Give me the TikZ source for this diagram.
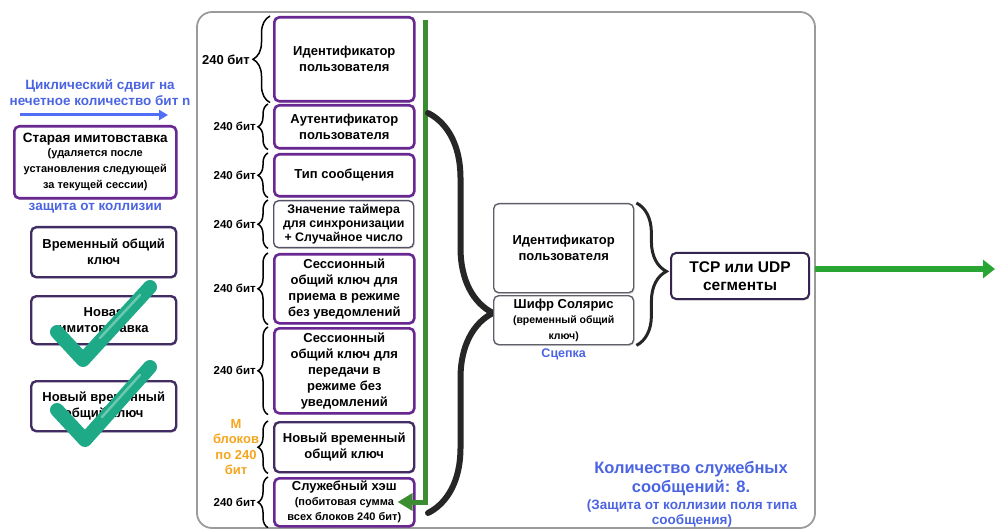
\documentclass[tikz,border=0pt]{standalone}
\usepackage{fontspec}
\setmainfont{Liberation Sans}
\usetikzlibrary{arrows.meta,decorations.pathreplacing,shadows,calc}

\definecolor{framegray}{RGB}{155,155,155}
\definecolor{violetA}{RGB}{105,40,145}
\definecolor{violetB}{RGB}{65,45,100}
\definecolor{slateB}{RGB}{85,80,100}
\definecolor{plainB}{RGB}{95,95,105}
\definecolor{bluetxt}{RGB}{75,100,225}
\definecolor{bluearr}{RGB}{80,110,245}
\definecolor{orangetxt}{RGB}{245,165,30}
\definecolor{greenline}{RGB}{60,140,50}
\definecolor{greenarr}{RGB}{40,165,50}
\definecolor{tickcol}{RGB}{30,170,135}

\newcommand{\fsz}[2]{\fontsize{#1}{#2}\selectfont}
% smaller explanatory lines inside boxes
\newcommand{\smA}{\fsz{11}{14.5}}
\newcommand{\smB}{\fsz{11}{13.5}}
\newcommand{\smC}{\fsz{10.5}{13}}

\tikzset{
  x=1pt, y=-1pt,
  box/.style={draw, rounded corners=5pt, fill=white, align=center, inner sep=1pt,
    anchor=north west, font=\bfseries\fsz{13}{16},
    drop shadow={shadow xshift=1pt, shadow yshift=-1.5pt, opacity=0.25}},
  vbox/.style={box, draw=violetA, line width=2.6pt},
  dbox/.style={box, draw=violetB, line width=2.4pt},
  sbox/.style={box, draw=slateB, line width=1.4pt},
  pbox/.style={box, draw=plainB, line width=1.4pt},
  brc/.style={decorate, line width=1.5pt, decoration={brace, amplitude=#1}},
  brc/.default=10pt,
  bitlbl/.style={anchor=east, font=\bfseries\fsz{11.5}{13}, inner sep=1pt},
  bluenote/.style={text=bluetxt, font=\bfseries\fsz{13.5}{16}, align=center, inner sep=0pt},
  tick/.style={draw=tickcol, line width=14pt, line cap=round, line join=round},
  tickhl/.style={draw=white, opacity=0.35, line width=2.5pt, line cap=round},
}

\begin{document}
\begin{tikzpicture}
\useasboundingbox (0,0) rectangle (995,529);

% outer frame
\draw[framegray, line width=1.8pt, rounded corners=15pt] (197,12) rectangle (815,528);

% ---------- left column ----------
\node[bluenote] (shift) at (100,93) {Циклический сдвиг на\\нечетное количество бит n};
\coordinate (sa) at (20,115);
\coordinate (sb) at (168,115);
\draw[bluearr, line width=3pt, -{Triangle[length=9pt,width=10pt]}] (sa) -- (sb);

\node[vbox, minimum width=162pt, minimum height=72pt, font=\bfseries\fsz{13.5}{16}] (old) at (13,125)
  {Старая имитовставка\\[-2pt]\smA(удаляется после\\\smA установления следующей\\\smA за текущей сессии)};
\node[bluenote, anchor=north] (coll) at ($(old.south)+(0,3)$) {защита от коллизии};

\node[dbox, minimum width=145pt, minimum height=50pt] (tmpkey) at (30,226) {Временный общий\\ключ};
\node[dbox, minimum width=145pt, minimum height=48pt] (newmac) at (30,295) {Новая\\имитовставка};
\node[dbox, minimum width=145pt, minimum height=50pt] (newkey) at (30,380) {Новый временный\\общий ключ};

% check marks over the last two boxes
\draw[tick] (57,332) -- (83,360) -- (150,287);
\draw[tickhl] (100,338) -- (140,295);
\draw[tick] (57,410) -- (85,440) -- (150,367);
\draw[tickhl] (102,417) -- (140,375);

% ---------- message blocks ----------
\node[vbox, minimum width=140pt, minimum height=84pt] (m1) at (273,16) {Идентификатор\\пользователя};
\node[vbox, minimum width=140pt, minimum height=43pt] (m2) at (273,104) {Аутентификатор\\пользователя};
\node[vbox, minimum width=140pt, minimum height=42pt] (m3) at (273,153) {Тип сообщения};
\node[sbox, minimum width=140pt, minimum height=47pt, font=\bfseries\fsz{12.4}{14}] (m4) at (273,200)
  {Значение таймера\\для синхронизации\\+ Случайное число};
\node[vbox, minimum width=140pt, minimum height=69pt, font=\bfseries\fsz{13}{16}] (m5) at (273,253)
  {Сессионный\\общий ключ для\\приема в режиме\\без уведомлений};
\node[vbox, minimum width=140pt, minimum height=85pt, font=\bfseries\fsz{13}{16}] (m6) at (273,327)
  {Сессионный\\общий ключ для\\передачи в\\режиме без\\уведомлений};
\node[dbox, minimum width=140pt, minimum height=50pt] (m7) at (273,421) {Новый временный\\общий ключ};
\node[vbox, minimum width=140pt, minimum height=48pt] (m8) at (273,477)
  {Служебный хэш\\[-2pt]\smB(побитовая сумма\\\smB всех блоков 240 бит)};

% braces with block sizes
\draw[brc=17pt] ($(m1.south west)+(-3,0)$) -- ($(m1.north west)+(-3,0)$);
\node[bitlbl, font=\bfseries\fsz{13}{15}] (b1) at ($(m1.west)+(-22,0)$) {240 бит};
\foreach \m in {m2,m3,m4,m5,m6,m8}{
  \draw[brc] ($(\m.south west)+(-5,0)$) -- ($(\m.north west)+(-5,0)$);
  \node[bitlbl] (b\m) at ($(\m.west)+(-16,0)$) {240 бит};
}
\draw[brc] ($(m7.south west)+(-5,0)$) -- ($(m7.north west)+(-5,0)$);
\node[text=orangetxt, font=\bfseries\fsz{13}{15.5}, align=center] (mblk) at (236,447) {M\\блоков\\по 240\\бит};

% checksum feedback line
\coordinate (gtop) at (425,20);
\coordinate (gcorner) at (425,502);
\coordinate (gend) at ($(m8.east)+(-18,0)$);
\draw[greenline, line width=5pt, -{Triangle[length=15pt,width=17pt]}]
  (gtop) -- (gcorner) -- (gcorner -| gend);

% big brace collecting the blocks
\coordinate (bb1) at (428,113);
\coordinate (bb2) at (428,513);
\draw[decorate, line width=6pt, line cap=round, black!85,
  decoration={brace, amplitude=65pt, aspect=0.5}] (bb1) -- (bb2);

% ---------- concatenation ----------
\node[pbox, minimum width=140pt, minimum height=89pt] (r1) at (493,203) {Идентификатор\\пользователя};
\node[pbox, minimum width=140pt, minimum height=49pt] (r2) at (493,295)
  {Шифр Солярис\\[-1pt]\smC(временный общий\\\smC ключ)};
\node[bluenote, anchor=north, font=\bfseries\fsz{12.5}{14}] (link) at ($(r2.south)+(0,3)$) {Сцепка};

\draw[decorate, line width=3pt, black!85, decoration={brace, amplitude=30pt, aspect=0.48}]
  ($(r1.north east)+(2,0)$) -- ($(r2.south east)+(2,0)$);

\node[box, draw=violetB!80!black, line width=2pt, minimum width=138pt, minimum height=46pt,
  font=\bfseries\fsz{15.5}{18}] (tcp) at (670,252) {TCP или UDP\\сегменты};

\coordinate (oa) at (815,269);
\coordinate (ob) at (995,269);
\draw[greenarr, line width=6pt, -{Triangle[length=12pt,width=18pt]}] (oa) -- (ob);

% notes
\node[bluenote, font=\bfseries\fsz{16.5}{19}] (cnt) at (691,479) {Количество служебных\\сообщений: 8.};
\node[bluenote, font=\bfseries\fsz{13.5}{15}] (cntp) at (692,514) {(Защита от коллизии поля типа\\сообщения)};
\end{tikzpicture}
\end{document}
